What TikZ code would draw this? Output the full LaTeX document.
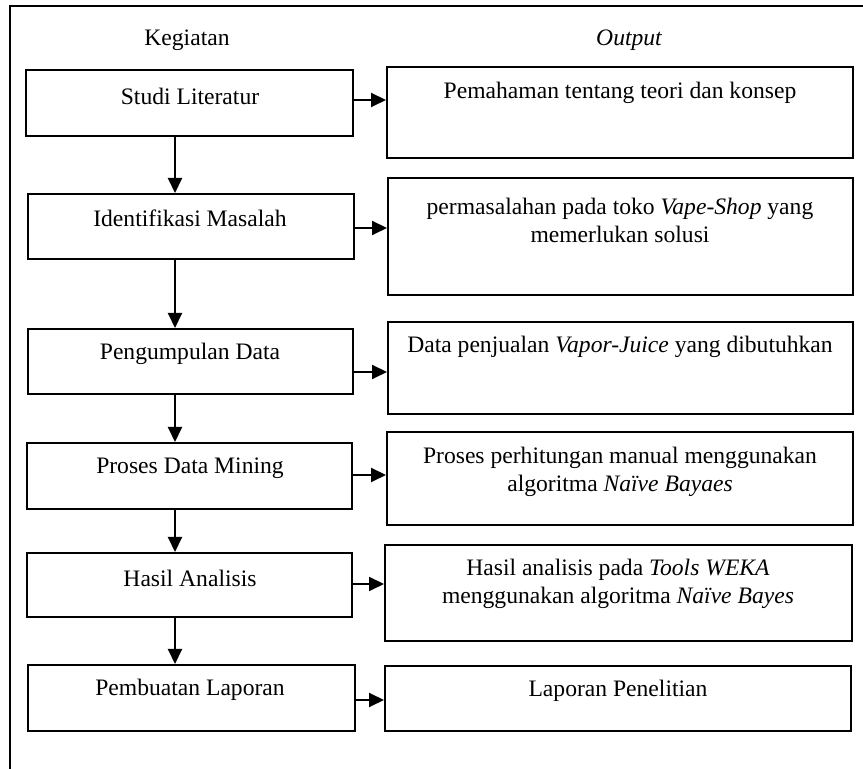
\documentclass[tikz,border=0pt]{standalone}
\usepackage{fontspec}
\setmainfont{Liberation Serif}
\usetikzlibrary{arrows.meta}
\tikzset{
  box/.style={draw, line width=1pt, rectangle, inner sep=0pt},
  txt/.style={inner sep=0pt, align=center, font=\fontsize{11.8}{14}\selectfont},
  arr/.style={line width=1pt, -{Triangle[length=7.5pt,width=7pt]}},
  frame/.style={line width=1pt}
}
\begin{document}
\begin{tikzpicture}[x=0.5pt,y=-0.5pt]
\useasboundingbox (0,0) rectangle (863,769);
\draw[frame] (10,769) -- (10,6) -- (863,6);
\node[txt] (hk) at (187,40) {Kegiatan};
\node[txt] (ho) at (629,40) {\itshape Output};
% left boxes
\node[box, minimum width=163.5pt, minimum height=33pt] (l1) at (189.5,103) {};
\node[box, minimum width=163pt, minimum height=32.5pt] (l2) at (191,226.5) {};
\node[box, minimum width=162.5pt, minimum height=32.5pt] (l3) at (190.5,361.5) {};
\node[box, minimum width=162.5pt, minimum height=33pt] (l4) at (189.5,476) {};
\node[box, minimum width=162.5pt, minimum height=32pt] (l5) at (189.5,585) {};
\node[box, minimum width=163.5pt, minimum height=33pt] (l6) at (191.5,698) {};
\node[txt] (t1) at (190,96) {Studi Literatur};
\node[txt] (t2) at (190,218) {Identifikasi Masalah};
\node[txt] (t3) at (190,354) {Pengumpulan Data};
\node[txt] (t4) at (190,468) {Proses Data Mining};
\node[txt] (t5) at (190,578) {Hasil Analisis};
\node[txt] (t6) at (190,690) {Pembuatan Laporan};
% right boxes
\node[box, minimum width=233pt, minimum height=45.5pt] (r1) at (620,112.5) {};
\node[box, minimum width=232.5pt, minimum height=58.5pt] (r2) at (620.5,236.5) {};
\node[box, minimum width=232.5pt, minimum height=46pt] (r3) at (620.5,368) {};
\node[box, minimum width=233pt, minimum height=46.5pt] (r4) at (620,478.5) {};
\node[box, minimum width=233.5pt, minimum height=48pt] (r5) at (618.5,593) {};
\node[box, minimum width=233pt, minimum height=32.5pt] (r6) at (618,698.5) {};
\node[txt] (s1) at (620,93) {Pemahaman tentang teori dan konsep};
\node[txt] (s2) at (620,220) {permasalahan pada toko \textit{Vape-Shop} yang\\memerlukan solusi};
\node[txt] (s3) at (620,347) {Data penjualan \textit{Vapor-Juice} yang dibutuhkan};
\node[txt] (s4) at (620,471.5) {Proses perhitungan manual menggunakan\\algoritma \textit{Naïve Bayaes}};
\node[txt] (s5) at (618,583.5) {Hasil analisis pada \textit{Tools WEKA}\\menggunakan algoritma \textit{Naïve Bayes}};
\node[txt] (s6) at (618,691) {Laporan Penelitian};
% horizontal arrows
\draw[arr] (l1.east |- 0,100) -- (r1.west |- 0,100);
\draw[arr] (l2.east |- 0,228) -- (r2.west |- 0,228);
\draw[arr] (l3.east |- 0,372) -- (r3.west |- 0,372);
\draw[arr] (l4.east |- 0,475) -- (r4.west |- 0,475);
\draw[arr] (l5.east |- 0,584) -- (r5.west |- 0,584);
\draw[arr] (l6.east |- 0,700) -- (r6.west |- 0,700);
% vertical arrows
\draw[arr] (l1.south -| 175,0) -- (l2.north -| 175,0);
\draw[arr] (l2.south -| 175,0) -- (l3.north -| 175,0);
\draw[arr] (l3.south -| 175,0) -- (l4.north -| 175,0);
\draw[arr] (l4.south -| 175,0) -- (l5.north -| 175,0);
\draw[arr] (l5.south -| 175,0) -- (l6.north -| 175,0);
\end{tikzpicture}
\end{document}
